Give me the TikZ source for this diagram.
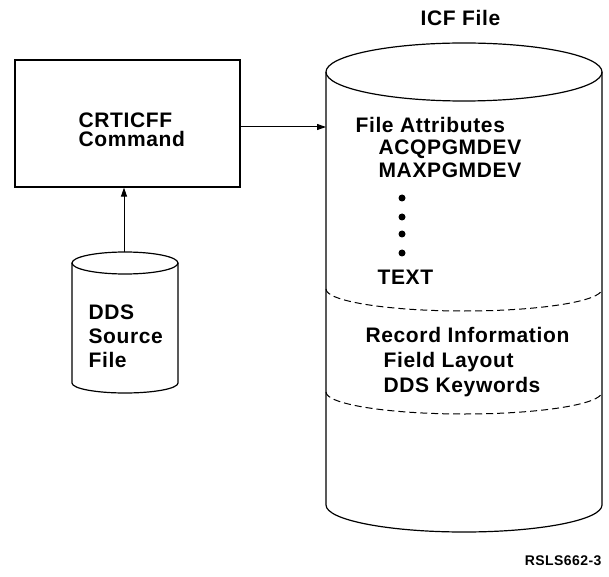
\documentclass[tikz,border=0pt]{standalone}
\usepackage{fontspec}
\setmainfont{Liberation Sans}[LetterSpace=3]
\usetikzlibrary{arrows.meta}
\begin{document}
\begin{tikzpicture}[x=1pt,y=1pt, line width=1.2pt,
  lbl/.style={font=\bfseries\fontsize{21}{21}\selectfont, inner sep=0pt, anchor=base west},
  arr/.style={-{Triangle[length=9pt,width=6pt]}, line width=1pt},
  dsh/.style={dash pattern=on 7pt off 4pt, line width=1pt},
  dotmark/.style={circle, fill, inner sep=0pt, minimum size=7pt}]
\useasboundingbox (0,0) rectangle (609,576);

% command box
\node[draw, minimum width=225pt, minimum height=127pt, inner sep=0pt] (crt) at (127.5,452.5) {};
\node[lbl] (crt1) at (78,448) {CRTICFF};
\node[lbl] (crt2) at (78,429) {Command};

% DDS source file cylinder
\draw (72,313) -- (72,193) arc[start angle=180,end angle=360,x radius=53pt,y radius=10pt] -- (178,313);
\draw (125,313) ellipse[x radius=53pt, y radius=11pt];
\node[lbl] (dds1) at (88,257) {DDS};
\node[lbl] (dds2) at (88,233) {Source};
\node[lbl] (dds3) at (88,209) {File};
\coordinate (ddsTop) at (124,324);
\draw[arr] (ddsTop) -- (ddsTop |- crt.south);

% ICF file cylinder
\draw (326,504) -- (326,71) arc[start angle=180,end angle=360,x radius=138pt,y radius=27pt] -- (602,504);
\draw (464,504) ellipse[x radius=138pt, y radius=29pt];
\draw[dsh] (326,287) arc[start angle=180,end angle=360,x radius=138pt,y radius=22pt];
\draw[dsh] (326,184) arc[start angle=180,end angle=360,x radius=138pt,y radius=22pt];
\node[lbl] (icft) at (420,550) {ICF File};
\coordinate (icfIn) at (326,449);
\draw[arr] (crt.east |- icfIn) -- (icfIn);

\node[lbl] (fa) at (355,443) {File Attributes};
\node[lbl] (fa1) at (378,421) {ACQPGMDEV};
\node[lbl] (fa2) at (378,398) {MAXPGMDEV};
\node[dotmark] (d1) at (402,378) {};
\node[dotmark] (d2) at (402,359) {};
\node[dotmark] (d3) at (402,342) {};
\node[dotmark] (d4) at (402,323) {};
\node[lbl] (fa3) at (377,291) {TEXT};

\node[lbl] (ri) at (365,234) {Record Information};
\node[lbl] (ri1) at (383,209) {Field Layout};
\node[lbl] (ri2) at (383,184) {DDS Keywords};

\node[font=\bfseries\fontsize{14}{14}\selectfont, inner sep=0pt, anchor=base east] (fig) at (602,11) {RSLS662-3};
\end{tikzpicture}
\end{document}
